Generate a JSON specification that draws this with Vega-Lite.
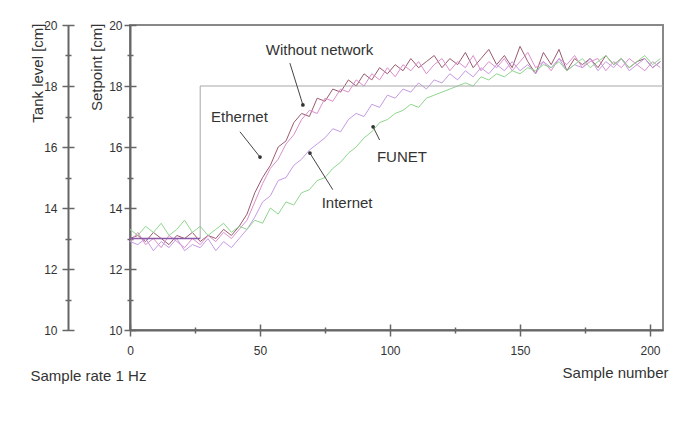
{
  "$schema": "https://vega.github.io/schema/vega-lite/v6.json",
  "width": 533,
  "height": 305,
  "autosize": {"type": "none"},
  "padding": {"left": 130, "top": 25, "right": 20, "bottom": 94},
  "background": "white",
  "config": {
    "view": {"stroke": "#888", "strokeWidth": 2},
    "axis": {"domainColor": "#666", "tickColor": "#666", "labelFont": "Liberation Sans", "labelFontSize": 12, "labelColor": "#333", "titleFont": "Liberation Sans", "titleFontSize": 15, "titleFontWeight": "normal", "titleColor": "#333", "grid": false, "labelFlush": false}
  },
  "datasets": {
    "series": [
      {"s":"WN","x":0,"y":13.0},{"s":"WN","x":3,"y":13.1},{"s":"WN","x":6,"y":12.9},{"s":"WN","x":9,"y":13.2},{"s":"WN","x":12,"y":13.0},{"s":"WN","x":15,"y":12.8},{"s":"WN","x":18,"y":13.1},{"s":"WN","x":21,"y":13.0},{"s":"WN","x":24,"y":13.2},{"s":"WN","x":27,"y":12.9},{"s":"WN","x":30,"y":13.1},{"s":"WN","x":33,"y":13.0},{"s":"WN","x":36,"y":13.3},{"s":"WN","x":39,"y":13.1},{"s":"WN","x":42,"y":13.4},{"s":"WN","x":45,"y":13.8},{"s":"WN","x":48,"y":14.5},{"s":"WN","x":51,"y":15.0},{"s":"WN","x":54,"y":15.4},{"s":"WN","x":57,"y":16.0},{"s":"WN","x":60,"y":16.2},{"s":"WN","x":63,"y":16.8},{"s":"WN","x":66,"y":17.1},{"s":"WN","x":69,"y":17.0},{"s":"WN","x":72,"y":17.6},{"s":"WN","x":75,"y":17.5},{"s":"WN","x":78,"y":17.9},{"s":"WN","x":81,"y":17.8},{"s":"WN","x":84,"y":18.2},{"s":"WN","x":87,"y":18.0},{"s":"WN","x":90,"y":18.4},{"s":"WN","x":93,"y":18.2},{"s":"WN","x":96,"y":18.6},{"s":"WN","x":99,"y":18.4},{"s":"WN","x":102,"y":18.7},{"s":"WN","x":105,"y":18.5},{"s":"WN","x":108,"y":18.9},{"s":"WN","x":111,"y":18.6},{"s":"WN","x":114,"y":18.8},{"s":"WN","x":117,"y":19.0},{"s":"WN","x":120,"y":18.6},{"s":"WN","x":123,"y":18.9},{"s":"WN","x":126,"y":18.7},{"s":"WN","x":129,"y":19.1},{"s":"WN","x":132,"y":18.6},{"s":"WN","x":135,"y":18.9},{"s":"WN","x":138,"y":19.2},{"s":"WN","x":141,"y":18.7},{"s":"WN","x":144,"y":19.0},{"s":"WN","x":147,"y":18.6},{"s":"WN","x":150,"y":19.3},{"s":"WN","x":153,"y":18.8},{"s":"WN","x":156,"y":18.4},{"s":"WN","x":159,"y":19.1},{"s":"WN","x":162,"y":18.7},{"s":"WN","x":165,"y":19.2},{"s":"WN","x":168,"y":18.5},{"s":"WN","x":171,"y":18.9},{"s":"WN","x":174,"y":18.7},{"s":"WN","x":177,"y":18.9},{"s":"WN","x":180,"y":18.6},{"s":"WN","x":183,"y":19.0},{"s":"WN","x":186,"y":18.7},{"s":"WN","x":189,"y":18.9},{"s":"WN","x":192,"y":18.6},{"s":"WN","x":195,"y":18.8},{"s":"WN","x":198,"y":18.9},{"s":"WN","x":201,"y":18.6},{"s":"WN","x":204,"y":18.8},
      {"s":"ETH","x":0,"y":12.9},{"s":"ETH","x":3,"y":13.2},{"s":"ETH","x":6,"y":12.8},{"s":"ETH","x":9,"y":13.0},{"s":"ETH","x":12,"y":12.7},{"s":"ETH","x":15,"y":13.1},{"s":"ETH","x":18,"y":12.9},{"s":"ETH","x":21,"y":12.7},{"s":"ETH","x":24,"y":13.0},{"s":"ETH","x":27,"y":12.8},{"s":"ETH","x":30,"y":13.1},{"s":"ETH","x":33,"y":12.9},{"s":"ETH","x":36,"y":13.2},{"s":"ETH","x":39,"y":13.0},{"s":"ETH","x":42,"y":13.3},{"s":"ETH","x":45,"y":13.6},{"s":"ETH","x":48,"y":14.2},{"s":"ETH","x":51,"y":14.8},{"s":"ETH","x":54,"y":15.3},{"s":"ETH","x":57,"y":15.6},{"s":"ETH","x":60,"y":16.1},{"s":"ETH","x":63,"y":16.4},{"s":"ETH","x":66,"y":16.9},{"s":"ETH","x":69,"y":17.2},{"s":"ETH","x":72,"y":17.1},{"s":"ETH","x":75,"y":17.6},{"s":"ETH","x":78,"y":17.5},{"s":"ETH","x":81,"y":17.9},{"s":"ETH","x":84,"y":17.8},{"s":"ETH","x":87,"y":18.2},{"s":"ETH","x":90,"y":18.0},{"s":"ETH","x":93,"y":18.4},{"s":"ETH","x":96,"y":18.2},{"s":"ETH","x":99,"y":18.6},{"s":"ETH","x":102,"y":18.3},{"s":"ETH","x":105,"y":18.7},{"s":"ETH","x":108,"y":18.5},{"s":"ETH","x":111,"y":18.8},{"s":"ETH","x":114,"y":18.4},{"s":"ETH","x":117,"y":18.7},{"s":"ETH","x":120,"y":18.9},{"s":"ETH","x":123,"y":18.5},{"s":"ETH","x":126,"y":18.8},{"s":"ETH","x":129,"y":18.6},{"s":"ETH","x":132,"y":19.0},{"s":"ETH","x":135,"y":18.5},{"s":"ETH","x":138,"y":18.8},{"s":"ETH","x":141,"y":18.6},{"s":"ETH","x":144,"y":18.9},{"s":"ETH","x":147,"y":18.5},{"s":"ETH","x":150,"y":18.8},{"s":"ETH","x":153,"y":19.1},{"s":"ETH","x":156,"y":18.6},{"s":"ETH","x":159,"y":18.8},{"s":"ETH","x":162,"y":18.5},{"s":"ETH","x":165,"y":18.9},{"s":"ETH","x":168,"y":18.7},{"s":"ETH","x":171,"y":19.0},{"s":"ETH","x":174,"y":18.6},{"s":"ETH","x":177,"y":18.8},{"s":"ETH","x":180,"y":18.9},{"s":"ETH","x":183,"y":18.5},{"s":"ETH","x":186,"y":18.8},{"s":"ETH","x":189,"y":18.6},{"s":"ETH","x":192,"y":18.9},{"s":"ETH","x":195,"y":18.7},{"s":"ETH","x":198,"y":18.5},{"s":"ETH","x":201,"y":18.8},{"s":"ETH","x":204,"y":18.6},
      {"s":"INT","x":0,"y":12.9},{"s":"INT","x":3,"y":12.8},{"s":"INT","x":6,"y":13.0},{"s":"INT","x":9,"y":12.6},{"s":"INT","x":12,"y":12.9},{"s":"INT","x":15,"y":12.7},{"s":"INT","x":18,"y":13.0},{"s":"INT","x":21,"y":12.6},{"s":"INT","x":24,"y":12.8},{"s":"INT","x":27,"y":12.7},{"s":"INT","x":30,"y":13.0},{"s":"INT","x":33,"y":12.6},{"s":"INT","x":36,"y":12.9},{"s":"INT","x":39,"y":12.7},{"s":"INT","x":42,"y":13.0},{"s":"INT","x":45,"y":13.3},{"s":"INT","x":48,"y":13.7},{"s":"INT","x":51,"y":14.2},{"s":"INT","x":54,"y":14.4},{"s":"INT","x":57,"y":14.9},{"s":"INT","x":60,"y":15.0},{"s":"INT","x":63,"y":15.4},{"s":"INT","x":66,"y":15.6},{"s":"INT","x":69,"y":15.9},{"s":"INT","x":72,"y":16.1},{"s":"INT","x":75,"y":16.3},{"s":"INT","x":78,"y":16.6},{"s":"INT","x":81,"y":16.5},{"s":"INT","x":84,"y":16.9},{"s":"INT","x":87,"y":17.1},{"s":"INT","x":90,"y":17.0},{"s":"INT","x":93,"y":17.4},{"s":"INT","x":96,"y":17.3},{"s":"INT","x":99,"y":17.7},{"s":"INT","x":102,"y":17.6},{"s":"INT","x":105,"y":17.9},{"s":"INT","x":108,"y":17.8},{"s":"INT","x":111,"y":18.1},{"s":"INT","x":114,"y":17.9},{"s":"INT","x":117,"y":18.2},{"s":"INT","x":120,"y":18.1},{"s":"INT","x":123,"y":18.4},{"s":"INT","x":126,"y":18.2},{"s":"INT","x":129,"y":18.5},{"s":"INT","x":132,"y":18.3},{"s":"INT","x":135,"y":18.6},{"s":"INT","x":138,"y":18.4},{"s":"INT","x":141,"y":18.7},{"s":"INT","x":144,"y":18.5},{"s":"INT","x":147,"y":18.8},{"s":"INT","x":150,"y":18.5},{"s":"INT","x":153,"y":18.7},{"s":"INT","x":156,"y":18.4},{"s":"INT","x":159,"y":18.8},{"s":"INT","x":162,"y":18.6},{"s":"INT","x":165,"y":18.9},{"s":"INT","x":168,"y":18.5},{"s":"INT","x":171,"y":18.7},{"s":"INT","x":174,"y":18.6},{"s":"INT","x":177,"y":18.9},{"s":"INT","x":180,"y":18.5},{"s":"INT","x":183,"y":18.8},{"s":"INT","x":186,"y":18.6},{"s":"INT","x":189,"y":18.9},{"s":"INT","x":192,"y":18.5},{"s":"INT","x":195,"y":18.7},{"s":"INT","x":198,"y":18.9},{"s":"INT","x":201,"y":18.6},{"s":"INT","x":204,"y":18.8},
      {"s":"FUNET","x":0,"y":13.3},{"s":"FUNET","x":3,"y":13.1},{"s":"FUNET","x":6,"y":13.4},{"s":"FUNET","x":9,"y":13.2},{"s":"FUNET","x":12,"y":13.5},{"s":"FUNET","x":15,"y":13.1},{"s":"FUNET","x":18,"y":13.3},{"s":"FUNET","x":21,"y":13.6},{"s":"FUNET","x":24,"y":13.2},{"s":"FUNET","x":27,"y":13.4},{"s":"FUNET","x":30,"y":13.1},{"s":"FUNET","x":33,"y":13.3},{"s":"FUNET","x":36,"y":13.5},{"s":"FUNET","x":39,"y":13.2},{"s":"FUNET","x":42,"y":13.4},{"s":"FUNET","x":45,"y":13.3},{"s":"FUNET","x":48,"y":13.6},{"s":"FUNET","x":51,"y":13.5},{"s":"FUNET","x":54,"y":14.0},{"s":"FUNET","x":57,"y":13.8},{"s":"FUNET","x":60,"y":14.2},{"s":"FUNET","x":63,"y":14.1},{"s":"FUNET","x":66,"y":14.5},{"s":"FUNET","x":69,"y":14.6},{"s":"FUNET","x":72,"y":14.9},{"s":"FUNET","x":75,"y":15.0},{"s":"FUNET","x":78,"y":15.3},{"s":"FUNET","x":81,"y":15.5},{"s":"FUNET","x":84,"y":15.8},{"s":"FUNET","x":87,"y":16.0},{"s":"FUNET","x":90,"y":16.3},{"s":"FUNET","x":93,"y":16.5},{"s":"FUNET","x":96,"y":16.8},{"s":"FUNET","x":99,"y":16.9},{"s":"FUNET","x":102,"y":17.1},{"s":"FUNET","x":105,"y":17.2},{"s":"FUNET","x":108,"y":17.4},{"s":"FUNET","x":111,"y":17.3},{"s":"FUNET","x":114,"y":17.6},{"s":"FUNET","x":117,"y":17.7},{"s":"FUNET","x":120,"y":17.8},{"s":"FUNET","x":123,"y":17.9},{"s":"FUNET","x":126,"y":18.0},{"s":"FUNET","x":129,"y":18.1},{"s":"FUNET","x":132,"y":18.0},{"s":"FUNET","x":135,"y":18.3},{"s":"FUNET","x":138,"y":18.2},{"s":"FUNET","x":141,"y":18.4},{"s":"FUNET","x":144,"y":18.3},{"s":"FUNET","x":147,"y":18.5},{"s":"FUNET","x":150,"y":18.4},{"s":"FUNET","x":153,"y":18.6},{"s":"FUNET","x":156,"y":18.5},{"s":"FUNET","x":159,"y":18.7},{"s":"FUNET","x":162,"y":18.6},{"s":"FUNET","x":165,"y":18.8},{"s":"FUNET","x":168,"y":18.5},{"s":"FUNET","x":171,"y":18.7},{"s":"FUNET","x":174,"y":18.9},{"s":"FUNET","x":177,"y":18.6},{"s":"FUNET","x":180,"y":18.8},{"s":"FUNET","x":183,"y":19.0},{"s":"FUNET","x":186,"y":18.7},{"s":"FUNET","x":189,"y":18.9},{"s":"FUNET","x":192,"y":18.6},{"s":"FUNET","x":195,"y":18.8},{"s":"FUNET","x":198,"y":19.0},{"s":"FUNET","x":201,"y":18.7},{"s":"FUNET","x":204,"y":18.9}
    ],
    "setpoint": [
      {"x": 0, "y": 13, "i": 0}, {"x": 27, "y": 13, "i": 1}, {"x": 27, "y": 18, "i": 2}, {"x": 205, "y": 18, "i": 3}
    ],
    "setpointStart": [
      {"x": 0, "y": 13}, {"x": 27, "y": 13}
    ],
    "labels": [
      {"label": "Without network", "x": 72.9, "y": 19.18},
      {"label": "Ethernet", "x": 42.1, "y": 16.98},
      {"label": "Internet", "x": 83.5, "y": 14.16},
      {"label": "FUNET", "x": 104.6, "y": 15.67}
    ],
    "arrows": [
      {"x": 61.5, "y": 18.75, "x2": 66.5, "y2": 17.38},
      {"x": 42.3, "y": 16.5, "x2": 50.0, "y2": 15.67},
      {"x": 78.0, "y": 14.6, "x2": 69.2, "y2": 15.8},
      {"x": 96.0, "y": 16.23, "x2": 93.5, "y2": 16.66}
    ]
  },
  "resolve": {"scale": {"x": "independent", "y": "independent"}, "axis": {"x": "independent", "y": "independent"}},
  "layer": [
    {
      "data": {"name": "series"},
      "mark": {"type": "line", "strokeWidth": 1},
      "encoding": {
        "x": {"field": "x", "type": "quantitative", "scale": {"domain": [0, 205], "nice": false, "zero": false},
          "axis": {"orient": "bottom", "title": "Sample number", "values": [0, 50, 100, 150, 200], "ticks": false, "domainWidth": 2, "labelPadding": 15, "titleAnchor": "end", "titleAlign": "right", "titleX": 538, "titleY": 42, "titleBaseline": "middle"}},
        "y": {"field": "y", "type": "quantitative", "scale": {"domain": [10, 20], "nice": false, "zero": false},
          "axis": {"orient": "left", "title": "Setpoint [cm]", "values": [10, 12, 14, 16, 18, 20], "ticks": false, "domainWidth": 2, "labelPadding": 8, "titleAnchor": "end", "titleAlign": "right", "titleX": -34, "titleY": -2, "titleBaseline": "middle"}},
        "color": {"field": "s", "type": "nominal", "legend": null,
          "scale": {"domain": ["FUNET", "INT", "ETH", "WN"], "range": ["#8fd68f", "#c59be3", "#dc8fcc", "#9a5a6c"]}},
        "order": {"field": "x"}
      }
    },
    {
      "data": {"name": "setpoint"},
      "mark": {"type": "line", "strokeWidth": 1, "color": "#a8a8a8"},
      "encoding": {
        "x": {"field": "x", "type": "quantitative", "scale": {"domain": [0, 205], "nice": false, "zero": false},
          "axis": {"orient": "bottom", "title": "Sample rate 1 Hz", "values": [0, 50, 100, 150, 200], "domain": false, "labels": false, "tickSize": 12, "tickWidth": 1.5, "offset": -6, "titleAnchor": "start", "titleAlign": "left", "titleX": -100, "titleY": 51, "titleBaseline": "middle"}},
        "y": {"field": "y", "type": "quantitative", "scale": {"domain": [10, 20], "nice": false, "zero": false},
          "axis": {"orient": "left", "title": null, "values": [10, 12, 14, 16, 18, 20], "domain": false, "labels": false, "tickSize": 12, "tickWidth": 1.5, "offset": -6}},
        "order": {"field": "i"}
      }
    },
    {
      "data": {"name": "labels"},
      "mark": {"type": "text", "font": "Liberation Sans", "fontSize": 15, "color": "#333", "align": "center", "baseline": "middle"},
      "encoding": {
        "x": {"field": "x", "type": "quantitative", "scale": {"domain": [0, 205], "nice": false, "zero": false},
          "axis": {"orient": "bottom", "title": null, "values": [25, 75, 125, 175], "domain": false, "labels": false, "tickSize": 6, "tickWidth": 1.5, "offset": -3}},
        "y": {"field": "y", "type": "quantitative", "scale": {"domain": [10, 20], "nice": false, "zero": false},
          "axis": {"orient": "left", "title": null, "values": [11, 13, 15, 17, 19], "domain": false, "labels": false, "tickSize": 6, "tickWidth": 1.5, "offset": -3}},
        "text": {"field": "label"}
      }
    },
    {
      "data": {"name": "arrows"},
      "mark": {"type": "rule", "color": "#444", "strokeWidth": 1},
      "encoding": {
        "x": {"field": "x", "type": "quantitative", "scale": {"domain": [0, 205], "nice": false, "zero": false}, "axis": null},
        "x2": {"field": "x2"},
        "y": {"field": "y", "type": "quantitative", "scale": {"domain": [10, 20], "nice": false, "zero": false},
          "axis": {"orient": "left", "title": "Tank level [cm]", "values": [10, 12, 14, 16, 18, 20], "ticks": false, "domainWidth": 2, "labelPadding": 11, "offset": 62, "titleAnchor": "end", "titleAlign": "right", "titleX": -31, "titleY": -2, "titleBaseline": "middle"}},
        "y2": {"field": "y2"}
      }
    },
    {
      "data": {"name": "arrows"},
      "mark": {"type": "point", "filled": true, "color": "#333", "size": 14, "opacity": 1},
      "encoding": {
        "x": {"field": "x2", "type": "quantitative", "scale": {"domain": [0, 205], "nice": false, "zero": false}, "axis": null},
        "y": {"field": "y2", "type": "quantitative", "scale": {"domain": [10, 20], "nice": false, "zero": false},
          "axis": {"orient": "left", "title": null, "values": [10, 12, 14, 16, 18, 20], "domain": false, "labels": false, "tickSize": 12, "tickWidth": 1.5, "offset": 56}}
      }
    },
    {
      "data": {"name": "setpointStart"},
      "mark": {"type": "line", "strokeWidth": 1.5, "color": "#8a5aa8"},
      "encoding": {
        "x": {"field": "x", "type": "quantitative", "scale": {"domain": [0, 205], "nice": false, "zero": false}, "axis": null},
        "y": {"field": "y", "type": "quantitative", "scale": {"domain": [10, 20], "nice": false, "zero": false},
          "axis": {"orient": "left", "title": null, "values": [11, 13, 15, 17, 19], "domain": false, "labels": false, "tickSize": 6, "tickWidth": 1.5, "offset": 59}}
      }
    }
  ]
}
